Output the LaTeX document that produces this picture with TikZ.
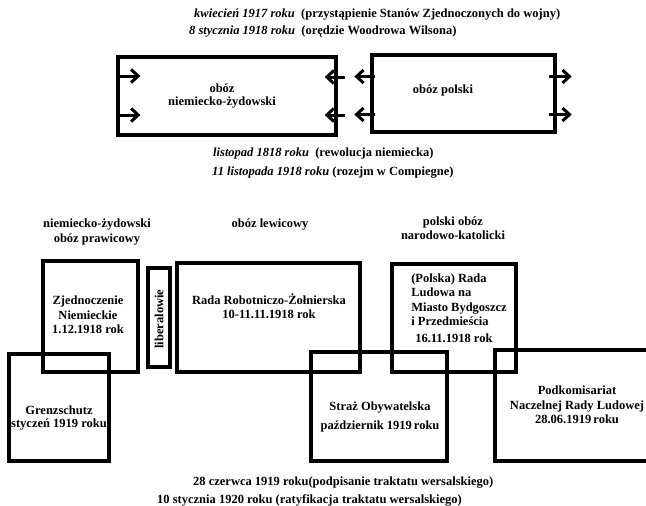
\documentclass[tikz,border=0pt]{standalone}
\usepackage{fontspec}
\setmainfont{Liberation Serif}
\usetikzlibrary{arrows.meta}
\tikzset{box/.style={draw,line width=3.3pt,inner sep=0pt},
  txt/.style={inner sep=0pt,align=center},
  arr/.style={line width=3pt,-{Straight Barb[length=7pt,width=13pt]}}}

\begin{document}
\begin{tikzpicture}[x=1pt,y=-1pt,font=\fontsize{12.5}{14.5}\selectfont\bfseries]
        \useasboundingbox (0,0) rectangle (646,506);
        % dates above
        \node[txt,anchor=west] (d1) at (194,15) {\textit{kwiecień 1917 roku}\enspace(przystąpienie Stanów Zjednoczonych do wojny)};
        \node[txt,anchor=west] (d2) at (189,32) {\textit{8 stycznia 1918 roku}\enspace(orędzie Woodrowa Wilsona)};
        % the two camps
        \node[box,minimum width=218pt,minimum height=78pt] (nz) at (227,96) {};
        \node[box,minimum width=183pt,minimum height=77pt] (pl) at (463.5,93.5) {};
        \node[txt] (nzT) at (222,96) {obóz\\[-2pt]niemiecko-żydowski};
        \node[txt] (plT) at (443,90) {obóz polski};
        \draw[arr] ([yshift=20pt]nz.west) -- ++(24,0);
        \draw[arr] ([yshift=-19pt]nz.west) -- ++(24,0);
        \draw[arr] ([xshift=7pt,yshift=19pt]nz.east) -- ++(-20,0);
        \draw[arr] ([xshift=7pt,yshift=-19pt]nz.east) -- ++(-20,0);
        \draw[arr] ([xshift=5pt,yshift=17pt]pl.west) -- ++(-21,0);
        \draw[arr] ([xshift=5pt,yshift=-21pt]pl.west) -- ++(-21,0);
        \draw[arr] ([xshift=-8pt,yshift=17pt]pl.east) -- ++(23,0);
        \draw[arr] ([xshift=-8pt,yshift=-21pt]pl.east) -- ++(23,0);
        % dates in between
        \node[txt,anchor=west] (d3) at (213,153) {\textit{listopad 1818 roku}\enspace(rewolucja niemiecka)};
        \node[txt,anchor=west] (d4) at (212,173) {\textit{11 listopada 1918 roku} (rozejm w Compiegne)};
        % headings
        \node[txt] (h1) at (97,232) {niemiecko-żydowski\\obóz prawicowy};
        \node[txt] (h2) at (270,225) {obóz lewicowy};
        \node[txt] (h3) at (453,228) {polski obóz\\narodowo-katolicki};
        % boxes
        \node[box,minimum width=95pt,minimum height=111pt] (zjed) at (90.5,316.5) {};
        \node[box,minimum width=22pt,minimum height=99pt] (lib) at (159,317.5) {};
        \node[box,minimum width=183pt,minimum height=109pt] (rada) at (268.5,317.5) {};
        \node[box,minimum width=124pt,minimum height=108pt] (polska) at (454,318) {};
        \node[box,minimum width=100pt,minimum height=107pt] (grenz) at (59,407.5) {};
        \node[box,minimum width=136pt,minimum height=109pt] (straz) at (379,406.5) {};
        \node[box,minimum width=157pt,minimum height=111pt] (podk) at (573.5,405.5) {};
        \node[txt] (zjedT) at (88,315) {Zjednoczenie\\Niemieckie\\1.12.1918 rok};
        \node[txt,rotate=90] (libT) at (159,319) {liberalowie};
        \node[txt] (radaT) at (269,306) {Rada Robotniczo-Żołnierska\\10-11.11.1918 rok};
        \node[txt,align=left] (polskaT) at (459,308) {(Polska) Rada\\Ludowa na\\Miasto Bydgoszcz\\i Przedmieścia\\[2pt]\hspace{4pt}16.11.1918 rok};
        \node[txt] (grenzT) at (59,418) {Grenzschutz\\[-2pt]styczeń 1919 roku};
        \node[txt] (strazT) at (380,417) {Straż Obywatelska\\[5pt]październik 1919\,roku};
        \node[txt] (podkT) at (577,405) {Podkomisariat\\Naczelnej Rady Ludowej\\28.06.1919\,roku};
        % dates below
        \node[txt,anchor=west] (d5) at (193,483) {28 czerwca 1919 roku(podpisanie traktatu wersalskiego)};
        \node[txt,anchor=west] (d6) at (157,500) {10 stycznia 1920 roku (ratyfikacja traktatu wersalskiego)};
    \end{tikzpicture}
\end{document}
